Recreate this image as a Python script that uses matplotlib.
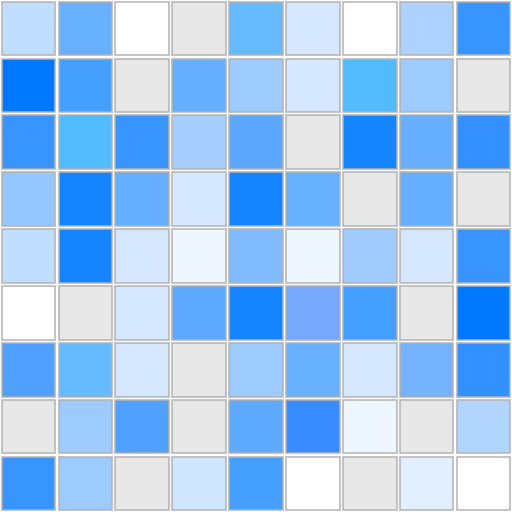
import matplotlib.pyplot as plt
from matplotlib.patches import Rectangle

# cell colours, row by row (top to bottom)
row0 = ['#c0deff', '#66b0ff', '#ffffff', '#e8e8e8', '#66bbff', '#d6e8ff', '#ffffff', '#add2ff', '#3895ff']
row1 = ['#0077ff', '#459fff', '#e8e8e8', '#66aeff', '#9ecbff', '#d6e8ff', '#52baff', '#9ecbff', '#e8e8e8']
row2 = ['#3895ff', '#52baff', '#3895ff', '#a6cfff', '#5da8ff', '#e8e8e8', '#1484ff', '#66aeff', '#3590ff']
row3 = ['#94c7ff', '#1484ff', '#66aeff', '#d6e8ff', '#1484ff', '#66b0ff', '#e8e8e8', '#66aeff', '#e8e8e8']
row4 = ['#c0deff', '#1484ff', '#d6e8ff', '#eef6ff', '#80bbff', '#eef6ff', '#a0cbff', '#d6e8ff', '#3895ff']
row5 = ['#ffffff', '#e8e8e8', '#d6e8ff', '#5eaaff', '#1484ff', '#77a8ff', '#459fff', '#e8e8e8', '#0077ff']
row6 = ['#4fa0ff', '#66bbff', '#d6e8ff', '#e8e8e8', '#9ecbff', '#66b0ff', '#d6e8ff', '#75b3ff', '#3390ff']
row7 = ['#e8e8e8', '#9ecbff', '#4fa0ff', '#e8e8e8', '#5eaaff', '#388cff', '#eef6ff', '#e8e8e8', '#b2d5ff']
row8 = ['#3895ff', '#9ecbff', '#e8e8e8', '#d0e6ff', '#459fff', '#ffffff', '#e8e8e8', '#e2efff', '#ffffff']
rows = [row0, row1, row2, row3, row4, row5, row6, row7, row8]

fig = plt.figure(figsize=(5.12, 5.12), dpi=100)
ax = fig.add_axes([0, 0, 1, 1])

pad = 0.03
for i, row in enumerate(rows):
    for j, c in enumerate(row):
        ax.add_patch(Rectangle((j + pad, i + pad), 1 - 2 * pad, 1 - 2 * pad,
                               facecolor=c, edgecolor='#b3b3b3', linewidth=1.1))

ax.set_xlim(0, 9)
ax.set_ylim(9, 0)
ax.axis('off')

fig.savefig('out.png', dpi=100, facecolor='white')
